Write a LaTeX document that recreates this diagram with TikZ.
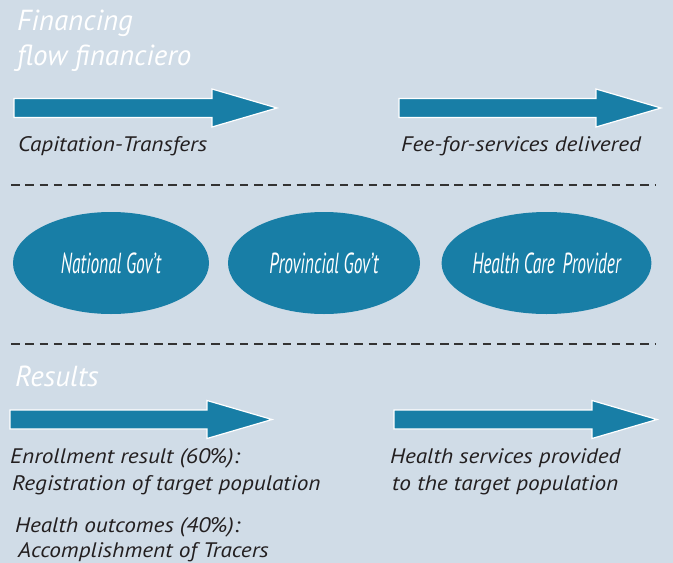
\documentclass[tikz,border=0pt]{standalone}
\usepackage{fontspec}
\setmainfont{PT Sans}
\newfontfamily\lblfont{PT Sans}[FakeStretch=1.11]
\usetikzlibrary{shapes.geometric}
\definecolor{bg}{HTML}{D0DCE7}
\definecolor{teal}{HTML}{187EA6}
\definecolor{ink}{HTML}{231F20}
\definecolor{dashc}{HTML}{333333}
\newcommand\cond[1]{\scalebox{0.6}[1]{#1}}
\newcommand\flowarrow[3]{%
  \draw[bigarrow] (#1,#3-9.5) -- (#2,#3-9.5) -- (#2,#3-19) -- ({#2+65},#3)
    -- (#2,#3+19) -- (#2,#3+9.5) -- (#1,#3+9.5) -- cycle;}
\begin{document}
\begin{tikzpicture}[x=1pt,y=-1pt,
  title/.style={anchor=base west, inner sep=0pt, text=white, font=\fontsize{29}{30}\selectfont\itshape},
  lbl/.style={anchor=base west, inner sep=0pt, text=ink, font=\lblfont\fontsize{21}{24}\selectfont\itshape},
  bigarrow/.style={fill=teal, draw=white, line width=1.2pt, line join=miter},
  sep/.style={draw=dashc, line width=2pt, dash pattern=on 8.5pt off 5.8pt},
  actor/.style={ellipse, fill=teal, draw=none, inner sep=0pt, minimum height=102pt, text=white, font=\fontsize{29}{30}\selectfont\itshape}
]
\fill[bg] (0,0) rectangle (673,563);
\useasboundingbox (0,0) rectangle (673,563);

% header
\node[title] (fin1) at (17,30) {Financing};
\node[title] (fin2) at (17,65) {flow financiero};

\flowarrow{14}{212}{108}
\flowarrow{399}{596}{108}
\node[lbl] (cap) at (18,151) {Capitation-Transfers};
\node[lbl] (fee) at (401,151) {Fee-for-services delivered};

\coordinate (d1a) at (11,185);
\coordinate (d1b) at (655,185);
\draw[sep] (d1a) -- (d1b);

\node[actor, minimum width=196pt] (nat) at (111,263) {\cond{National Gov’t}};
\node[actor, minimum width=192pt] (prov) at (324,263) {\cond{Provincial Gov’t}};
\node[actor, minimum width=209pt] (hcp) at (546.5,263) {\cond{Health Care\, Provider}};

\coordinate (d2a) at (11,344);
\coordinate (d2b) at (655,344);
\draw[sep] (d2a) -- (d2b);

\node[title] (res) at (15,386) {Results};

\flowarrow{10}{207}{419.5}
\flowarrow{394}{592}{419.5}

\node[lbl] (enr1) at (10,463) {Enrollment result (60\%):};
\node[lbl] (enr2) at (12,490) {Registration of target population};
\node[lbl] (ho1) at (15,532) {Health outcomes (40\%):};
\node[lbl] (ho2) at (18,557) {Accomplishment of Tracers};
\node[lbl] (hs1) at (390,463) {Health services provided};
\node[lbl] (hs2) at (392,490) {to the target population};
\end{tikzpicture}
\end{document}
